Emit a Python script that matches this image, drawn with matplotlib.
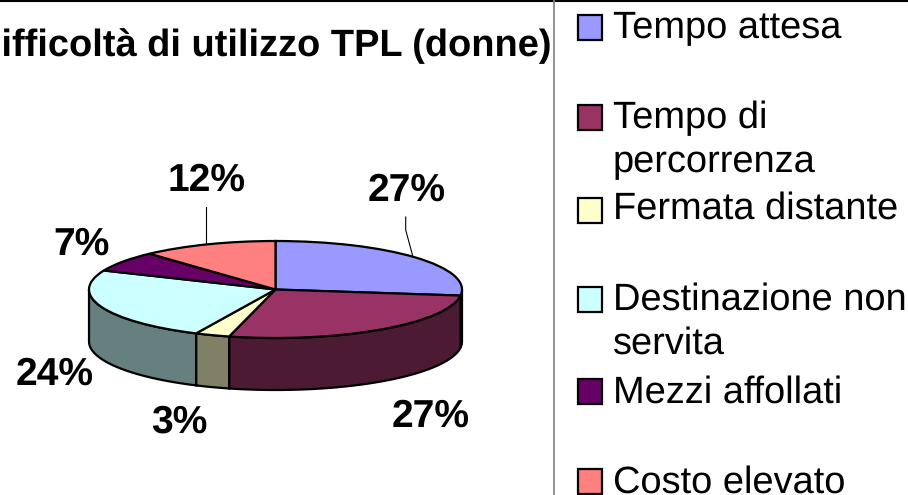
import matplotlib
matplotlib.use('Agg')
import numpy as np
import matplotlib.pyplot as plt

categories = ['Tempo attesa', 'Tempo di\npercorrenza', 'Fermata distante',
              'Destinazione non\nservita', 'Mezzi affollati', 'Costo elevato']
values = [27.0, 27.0, 3.0, 24.4, 6.8, 11.8]
top_colors = ['#9999FF', '#993366', '#FFFFCC', '#CCFFFF', '#660066', '#FF8080']
side_colors = ['#4D4D80', '#4D1A33', '#808066', '#668080', '#330033', '#804040']
title = 'Difficoltà di utilizzo TPL (donne)'

W, H = 908, 495
CX, CY, RX, RY, DEPTH = 275.5, 289.5, 186.5, 48.5, 52

plt.rcParams['font.family'] = ['Liberation Sans', 'DejaVu Sans']
plt.rcParams['text.hinting'] = 'none'
plt.rcParams['text.hinting_factor'] = 1
fig = plt.figure(figsize=(W / 100, H / 100), dpi=100)
ax = fig.add_axes([0, 0, 1, 1])

# overlay in pixel coordinates for text and lines
pix = fig.add_axes([0, 0, 1, 1], zorder=5)
pix.set_xlim(0, W)
pix.set_ylim(H, 0)
pix.axis('off')

# pie top, then stretch the axes so the circle becomes the flat ellipse
ax.pie(values, colors=top_colors, startangle=90, counterclock=False, radius=1,
       wedgeprops={'edgecolor': 'black', 'linewidth': 1.6, 'zorder': 3})
ax.set_aspect('auto')
ax.set_xlim(-CX / RX, (W - CX) / RX)
ax.set_ylim((CY - H) / RY, CY / RY)
ax.axis('off')

# side wall, only the front half of the rim is visible
edges = np.cumsum([0] + values) / sum(values) * 360
d = DEPTH / RY
for i in range(len(values)):
    a0, a1 = max(edges[i], 90), min(edges[i + 1], 270)
    if a1 <= a0:
        continue
    t = np.radians(np.linspace(a0, a1, 80))
    x = np.sin(t)
    y = np.cos(t)
    ax.fill(np.r_[x, x[::-1]], np.r_[y, y[::-1] - d], facecolor=side_colors[i],
            edgecolor='black', linewidth=1.6, zorder=2)

# percent labels
label_pos = [(406.5, 201), (431, 427), (179.5, 433), (54.5, 385), (81.5, 255), (207, 191)]
for v, (lx, ly) in zip(values, label_pos):
    pix.text(lx, ly, f'{v:.0f}%', fontsize=28, fontweight='bold', ha='center',
             va='baseline', color='black')

# leader lines
pix.plot([205.7, 205.7], [207, 243], color='black', lw=0.8)
pix.plot([405.7, 405.7, 413], [217, 230, 257], color='black', lw=0.8)

pix.text(552, 56, title, fontsize=27.6, fontweight='bold', ha='right', va='baseline')

# frame lines
pix.plot([0, W], [0.5, 0.5], color='black', lw=1.5)
pix.plot([554, 554], [0, H], color='#808080', lw=1.2)

# legend
box_top = [15, 105, 198, 287, 379, 469]
baselines = [[38], [128, 172], [219], [310, 354], [403], [493]]
for cat, col, by, bl in zip(categories, top_colors, box_top, baselines):
    pix.add_patch(plt.Rectangle((578, by), 24, 25, facecolor=col, edgecolor='black', lw=1.6))
    for line, ly in zip(cat.split('\n'), bl):
        pix.text(613, ly, line, fontsize=27.2, ha='left', va='baseline', color='black')

fig.savefig('out.png', dpi=100)
